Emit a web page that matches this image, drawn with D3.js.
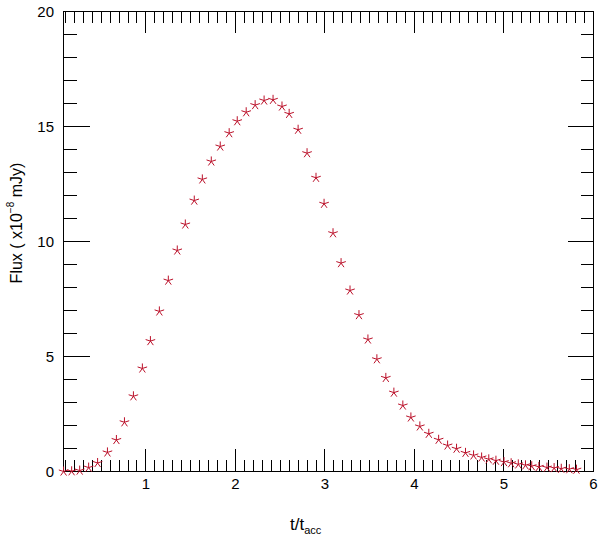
<!DOCTYPE html>
<html>
<head>
<meta charset="utf-8">
<script src="https://cdn.jsdelivr.net/npm/d3@7"></script>
<style>
  html, body { margin: 0; padding: 0; background: #fff; }
  svg { display: block; font-family: "Liberation Sans", Arial, Helvetica, sans-serif; }
</style>
</head>
<body>
<svg id="chart" width="600" height="535"></svg>
<script>
// ---- data ----
const tValues = [0.08, 0.17, 0.26, 0.36, 0.46, 0.57, 0.67, 0.76, 0.86, 0.96,
  1.05, 1.15, 1.25, 1.35, 1.44, 1.54, 1.63, 1.73, 1.83, 1.93,
  2.02, 2.12, 2.22, 2.32, 2.42, 2.52, 2.60, 2.70, 2.80, 2.90,
  2.99, 3.09, 3.18, 3.28, 3.38, 3.48, 3.58, 3.68, 3.77, 3.87,
  3.96, 4.06, 4.16, 4.27, 4.37, 4.47, 4.57, 4.66, 4.75, 4.83,
  4.91, 5.00, 5.08, 5.16, 5.24, 5.31, 5.39, 5.48, 5.56, 5.64,
  5.73, 5.81];
const fluxValues = [0.00, 0.01, 0.04, 0.17, 0.37, 0.83, 1.37, 2.14, 3.27, 4.48,
  5.67, 6.96, 8.30, 9.61, 10.74, 11.78, 12.70, 13.48, 14.13, 14.71,
  15.23, 15.62, 15.93, 16.13, 16.16, 15.87, 15.55, 14.86, 13.84, 12.77,
  11.64, 10.36, 9.06, 7.87, 6.80, 5.74, 4.88, 4.07, 3.43, 2.87,
  2.35, 1.96, 1.64, 1.38, 1.13, 0.99, 0.81, 0.70, 0.61, 0.53,
  0.47, 0.41, 0.36, 0.31, 0.27, 0.23, 0.20, 0.17, 0.15, 0.12,
  0.10, 0.08];
const xTickLabels = [1, 2, 3, 4, 5, 6];
const yTickLabels = [0, 5, 10, 15, 20];
const xDomain = [0.079, 6];
const yDomain = [0, 20];

// ---- layout ----
const svg = d3.select("#chart");
const L = 63.5, R = 593.5, T = 11.5, B = 471.5;
const x = d3.scaleLinear().domain(xDomain).range([L, R]);
const y = d3.scaleLinear().domain(yDomain).range([B, T]);
const color = "#bb1029";

const axes = svg.append("g").attr("shape-rendering", "crispEdges")
  .attr("stroke", "#000").attr("stroke-width", 1);

// frame
axes.append("rect").attr("x", L).attr("y", T).attr("width", R - L).attr("height", B - T)
  .attr("fill", "none");

// x ticks (minor every 0.1, major every 1), bottom and top, pointing inward
const xMinor = d3.range(1, 61).map(i => i / 10).filter(v => v > xDomain[0] && v < xDomain[1]);
xMinor.forEach(v => {
  const major = Math.abs(v - Math.round(v)) < 1e-9;
  const px = x(v);
  axes.append("line").attr("x1", px).attr("x2", px)
    .attr("y1", B).attr("y2", B - (major ? 23 : 12));
  axes.append("line").attr("x1", px).attr("x2", px)
    .attr("y1", T).attr("y2", T + (major ? 21 : 11));
});
// y ticks (minor every 1, major every 5), left and right
d3.range(1, 20).forEach(v => {
  const major = v % 5 === 0;
  const py = y(v);
  axes.append("line").attr("x1", L).attr("x2", L + (major ? 26 : 13))
    .attr("y1", py).attr("y2", py);
  axes.append("line").attr("x1", R).attr("x2", R - (major ? 26 : 13))
    .attr("y1", py).attr("y2", py);
});

// tick labels
svg.append("g").selectAll("text").data(xTickLabels).join("text")
  .attr("x", d => x(d)).attr("y", 489)
  .attr("text-anchor", "middle").attr("font-size", 15).attr("fill", "#000")
  .text(d => d);
svg.append("g").selectAll("text").data(yTickLabels).join("text")
  .attr("x", 54).attr("y", d => y(d) + 5.5)
  .attr("text-anchor", "end").attr("font-size", 15).attr("fill", "#000")
  .text(d => d);

// axis titles
const xt = svg.append("text").attr("x", 290).attr("y", 530)
  .attr("font-size", 17).attr("fill", "#000");
xt.append("tspan").text("t/t");
xt.append("tspan").attr("font-size", 11).attr("dy", 4).text("acc");

const yt = svg.append("text")
  .attr("transform", "translate(22,223) rotate(-90)")
  .attr("text-anchor", "middle").attr("font-size", 16).attr("fill", "#000");
yt.append("tspan").text("Flux ( x10");
yt.append("tspan").attr("font-size", 10).attr("dy", -8).text("−8");
yt.append("tspan").attr("dy", 8).text(" mJy)");

// markers: five-armed asterisks
const data = tValues.map((t, i) => ({ t, f: fluxValues[i] }));
const r = 5;
let starPath = "";
for (let k = 0; k < 5; k++) {
  const a = (-90 + 72 * k) * Math.PI / 180;
  starPath += `M0,0L${(r * Math.cos(a)).toFixed(2)},${(r * Math.sin(a)).toFixed(2)}`;
}
svg.append("g").selectAll("path").data(data).join("path")
  .attr("d", starPath)
  .attr("transform", d => `translate(${x(d.t)},${y(d.f)})`)
  .attr("fill", "none").attr("stroke", color).attr("stroke-width", 1);
</script>
</body>
</html>
